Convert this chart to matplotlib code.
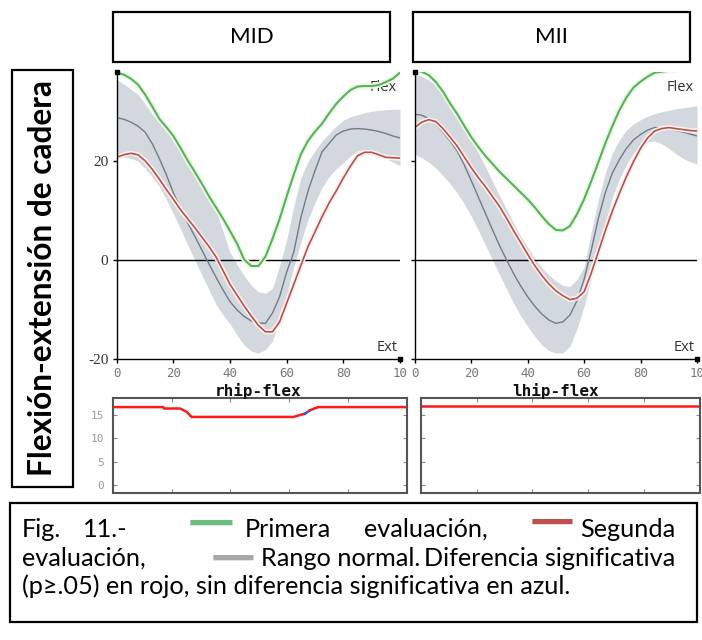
import matplotlib
matplotlib.use('Agg')
import matplotlib.pyplot as plt
import matplotlib.patheffects as pe
from matplotlib.patches import Rectangle
from matplotlib.lines import Line2D

# % of gait cycle, shared by every curve (one sample every 2.5 %)
pct = [i * 2.5 for i in range(41)]

# MID (right hip)
mid_primera = [37.8, 37.4, 36.6, 35.4, 33.4, 31.0, 28.5, 26.8, 25.0, 22.6, 20.1, 17.8, 15.4, 12.9,
               10.6, 8.3, 5.8, 3.2, 0.0, -1.3, -1.3, 0.6, 4.2, 8.2, 12.8, 17.2, 21.3, 24.0, 25.9,
               27.5, 29.6, 31.5, 33.0, 34.3, 35.0, 35.1, 35.1, 35.3, 35.9, 36.6, 37.8]
mid_segunda = [20.7, 21.2, 21.5, 21.2, 20.0, 18.3, 16.3, 14.2, 12.2, 10.1, 8.3, 6.5, 4.6, 2.7,
               0.6, -2.2, -5.0, -7.2, -9.4, -11.4, -13.3, -14.6, -14.6, -12.6, -8.8, -5.0, -1.2,
               2.6, 5.6, 8.7, 11.5, 13.9, 16.5, 18.9, 21.0, 21.7, 21.7, 21.2, 20.7, 20.6, 20.5]
mid_normal = [28.7, 28.4, 27.8, 27.0, 25.8, 23.5, 20.5, 17.2, 13.5, 10.4, 7.5, 4.8, 2.0, -0.8,
              -3.5, -6.1, -8.5, -10.2, -11.5, -12.4, -12.8, -12.9, -10.8, -7.5, -2.5, 1.5, 8.5,
              13.8, 18.0, 21.8, 23.5, 25.2, 26.0, 26.4, 26.5, 26.4, 26.2, 25.9, 25.5, 25.0, 24.6]
mid_normal_hi = [36.4, 35.5, 34.5, 33.4, 31.5, 29.5, 27.8, 26.3, 25.0, 22.5, 20.0, 17.8, 15.5,
                 13.0, 10.0, 5.8, 1.5, -1.0, -3.3, -5.2, -6.5, -6.8, -5.8, -1.2, 4.0, 10.8, 16.5,
                 19.8, 22.0, 24.0, 25.5, 27.0, 28.2, 28.9, 29.3, 29.7, 30.0, 30.2, 30.3, 30.4, 30.4]
mid_normal_lo = [20.7, 20.7, 20.5, 19.9, 18.5, 16.8, 14.8, 12.2, 9.3, 6.2, 3.0, 0.0, -3.0, -6.0,
                 -9.0, -11.2, -13.0, -15.3, -17.3, -18.5, -18.9, -18.2, -16.5, -12.0, -7.0, -1.5,
                 3.5, 8.0, 11.5, 14.6, 16.8, 18.4, 19.6, 20.9, 22.0, 22.0, 21.8, 21.2, 20.5, 19.7, 19.0]

# MII (left hip)
mii_primera = [38.3, 38.0, 37.3, 35.9, 34.0, 31.6, 29.5, 27.1, 24.8, 22.8, 21.0, 19.4, 17.8, 16.4,
               15.0, 13.6, 12.2, 10.6, 8.8, 7.2, 6.0, 5.9, 6.8, 9.2, 12.2, 15.8, 19.6, 23.5, 27.0,
               30.2, 32.8, 34.8, 36.0, 37.0, 37.8, 38.0, 38.2, 38.4, 38.6, 38.8, 39.0]
mii_segunda = [26.7, 27.8, 28.3, 27.9, 26.5, 24.8, 23.0, 20.8, 18.6, 16.6, 14.8, 12.8, 10.8, 8.4,
               5.9, 3.5, 1.1, -1.2, -3.2, -4.9, -6.3, -7.3, -8.1, -7.8, -6.5, -2.8, 1.5, 5.8, 9.8,
               13.4, 16.8, 19.8, 22.5, 24.6, 26.0, 26.5, 26.7, 26.5, 26.3, 26.1, 26.0]
mii_normal = [29.4, 29.2, 28.5, 27.5, 25.8, 24.0, 22.0, 19.2, 16.0, 12.7, 9.4, 6.1, 2.9, 0.0,
              -2.8, -5.3, -7.5, -9.4, -11.0, -12.2, -12.9, -12.6, -11.2, -8.3, -4.0, 1.8, 8.2,
              13.5, 17.5, 20.2, 22.5, 24.2, 25.3, 26.2, 26.7, 26.6, 26.4, 26.1, 25.8, 25.4, 25.0]
mii_normal_hi = [37.5, 37.1, 36.3, 35.2, 33.5, 31.8, 30.0, 27.5, 24.5, 21.6, 18.8, 15.9, 13.0,
                 10.2, 7.4, 4.8, 2.5, 0.3, -1.6, -3.1, -4.3, -5.2, -5.4, -4.0, -1.5, 5.5, 12.0,
                 17.5, 21.5, 24.2, 26.2, 27.4, 28.3, 29.0, 29.5, 29.9, 30.2, 30.5, 30.7, 30.9, 31.1]
mii_normal_lo = [21.3, 20.6, 19.7, 18.5, 17.0, 15.4, 13.5, 11.3, 8.8, 6.0, 3.0, 0.0, -3.0, -5.9,
                 -8.8, -11.3, -13.5, -15.5, -17.2, -18.4, -18.9, -18.9, -17.5, -14.0, -9.5, -4.0,
                 1.8, 7.5, 12.5, 16.3, 19.2, 21.5, 23.2, 23.8, 24.0, 23.4, 22.5, 21.4, 20.5, 19.8, 19.3]

# significance strips under each plot
mid_sig_x = [0, 17.2, 17.4, 22.9, 25.1, 26.8, 61.4, 63.6, 65.3]
mid_sig_y = [16.6, 16.6, 16.3, 16.3, 15.6, 14.5, 14.5, 14.9, 15.2]
mid_nosig_x = [65.3, 67.0]
mid_nosig_y = [15.2, 15.9]
mid_sig2_x = [67.0, 68.5, 69.9, 100]
mid_sig2_y = [15.9, 16.3, 16.6, 16.6]
mii_sig_x = [0, 100]
mii_sig_y = [16.9, 16.9]

titles = ['MID', 'MII']
xnames = ['rhip-flex', 'lhip-flex']
xticks = [0, 20, 40, 60, 80, 100]
xtick_labels = ['0', '20', '40', '60', '80', '10']
yticks = [-20, 0, 20]
ytick_labels = ['-20', '0', '20']
strip_ticks = [0, 5, 10, 15]
ylabel = 'Flexión-extensión de cadera'
caption1 = ['Fig.', '11.-', 'Primera', 'evaluación,', 'Segunda']
caption2 = ['evaluación,', 'Rango normal.', 'Diferencia significativa']
caption3 = '(p≥.05) en rojo, sin diferencia significativa en azul.'

W, H = 702, 640
fig = plt.figure(figsize=(W / 100, H / 100), dpi=100)
fig.patch.set_facecolor('white')


def px(x, y):
    return x / W, 1 - y / H


def box(x0, y0, x1, y1, lw=1.6):
    fig.add_artist(Rectangle(px(x0, y1), (x1 - x0) / W, (y1 - y0) / H,
                             transform=fig.transFigure, fill=False,
                             edgecolor='black', lw=lw))


def swatch(x0, x1, y, color):
    a, yy = px(x0, y)
    b, _ = px(x1, y)
    fig.add_artist(Line2D([a, b], [yy - 0.002, yy - 0.002], transform=fig.transFigure,
                          color='#dcdcdc', lw=4, solid_capstyle='butt'))
    fig.add_artist(Line2D([a, b], [yy, yy], transform=fig.transFigure,
                          color=color, lw=3.6, solid_capstyle='butt'))


GREEN = '#55b556'
RED = '#b8514b'
MEAN = '#6f7c89'
BAND = '#d3d8de'


def draw_main(ax, lo, hi, mean, first, second, show_labels):
    ax.fill_between(pct, lo, hi, color=BAND, lw=0, zorder=1)
    ax.axhline(0, color='black', lw=1, zorder=2)
    ax.plot(pct, mean, color=MEAN, lw=1, zorder=3)
    ax.plot(pct, second, color=RED, lw=1.2, zorder=4,
            path_effects=[pe.Stroke(linewidth=3.6, foreground='#fbf0ee'), pe.Normal()])
    ax.plot(pct, first, color=GREEN, lw=1.5, zorder=6,
            path_effects=[pe.Stroke(linewidth=4, foreground='#eef7ea'), pe.Normal()])
    ax.set_xlim(0, 100)
    ax.set_ylim(-20, 38)
    for s in ['top', 'right']:
        ax.spines[s].set_visible(False)
    for s in ['left', 'bottom']:
        ax.spines[s].set_linewidth(1)
        ax.spines[s].set_zorder(7)
    ax.set_xticks(xticks)
    ax.set_xticklabels(xtick_labels, color='#777777', fontsize=9, family='DejaVu Sans Mono')
    ax.set_yticks(yticks)
    if show_labels:
        ax.set_yticklabels(ytick_labels, color='#333333', fontsize=11, family='Liberation Serif')
    else:
        ax.set_yticklabels([])
    ax.tick_params(length=3, width=1, pad=3)
    ax.plot([0], [38], 's', color='black', ms=3, clip_on=False, zorder=8)
    ax.plot([100], [-20], 's', color='black', ms=3, clip_on=False, zorder=8)
    ax.text(99, 34.8, 'Flex', ha='right', va='center', fontsize=10.5,
            color='#333333', family='Open Sans', zorder=5)
    ax.text(99, -17.7, 'Ext', ha='right', va='center', fontsize=10.5,
            color='#333333', family='Open Sans', zorder=5)


def draw_strip(ax, show_labels):
    ax.set_xlim(0, 100)
    ax.set_ylim(-1.7, 18.6)
    ax.set_yticks(strip_ticks)
    ax.set_xticks(xticks[1:-1])
    ax.set_xticklabels([])
    if show_labels:
        ax.set_yticklabels([str(t) for t in strip_ticks], color='#999999', fontsize=8,
                           family='DejaVu Sans Mono')
    else:
        ax.set_yticklabels([])
    ax.tick_params(direction='in', length=3, width=0.8, color='#888888',
                   top=True, right=True, pad=6)
    for s in ax.spines.values():
        s.set_linewidth(1.5)
        s.set_color('#555555')


# main panels
ax1 = fig.add_axes([116.7 / W, 1 - 358.5 / H, 283.3 / W, 286.8 / H])
draw_main(ax1, mid_normal_lo, mid_normal_hi, mid_normal, mid_primera, mid_segunda, True)
ax2 = fig.add_axes([414.7 / W, 1 - 358.5 / H, 282.3 / W, 286.8 / H])
draw_main(ax2, mii_normal_lo, mii_normal_hi, mii_normal, mii_primera, mii_segunda, False)

# significance strips
ax3 = fig.add_axes([112.7 / W, 1 - 493 / H, 294.3 / W, 95.3 / H])
ax3.plot(mid_sig_x, mid_sig_y, color='#ff1a1a', lw=1.8)
ax3.plot(mid_nosig_x, mid_nosig_y, color='#3355dd', lw=1.8)
ax3.plot(mid_sig2_x, mid_sig2_y, color='#ff1a1a', lw=1.8)
draw_strip(ax3, True)
ax4 = fig.add_axes([420.7 / W, 1 - 493 / H, 279.3 / W, 95.3 / H])
ax4.plot(mii_sig_x, mii_sig_y, color='#ff1a1a', lw=1.8)
draw_strip(ax4, False)

for xc, name in zip([258, 556], xnames):
    fig.text(*px(xc, 391), name, ha='center', va='center', fontsize=11.5,
             fontweight='bold', family='DejaVu Sans Mono', color='#111111')

# title boxes
box(113, 12, 390, 62)
box(413, 12, 690, 62)
for xc, t in zip([251.5, 551.5], titles):
    fig.text(*px(xc, 37), t, ha='center', va='center', fontsize=16, family='Lato')

# y label box
box(11.7, 70, 72.7, 486.7)
renderer = fig.canvas.get_renderer()
yl = fig.text(*px(42.2, 278.5), ylabel, rotation=90, ha='center', va='center',
              fontsize=18, fontweight='bold', family='Lato')
h = yl.get_window_extent(renderer).height
yl.set_fontsize(18 * 397 / h)

# caption
box(10, 503, 697, 622)
fam = ['Lato', 'DejaVu Sans']
c3 = fig.text(*px(22, 594), caption3, ha='left', va='baseline', fontsize=15, family=fam)
w = c3.get_window_extent(renderer).width
fs = 15 * 550 / w
c3.set_fontsize(fs)

line1_x = [22, 83, 245, 364]
for x, t in zip(line1_x, caption1[:4]):
    fig.text(*px(x, 537), t, ha='left', va='baseline', fontsize=fs, family=fam)
fig.text(*px(675, 537), caption1[4], ha='right', va='baseline', fontsize=fs, family=fam)
fig.text(*px(22, 566), caption2[0], ha='left', va='baseline', fontsize=fs, family=fam)
fig.text(*px(261, 566), caption2[1], ha='left', va='baseline', fontsize=fs, family=fam)
fig.text(*px(675, 566), caption2[2], ha='right', va='baseline', fontsize=fs, family=fam)

swatch(190, 232, 521.7, '#6bbf7c')
swatch(532, 572, 520.7, '#c0504d')
swatch(213, 253, 556.7, '#a8a8a8')

fig.savefig('out.png', dpi=100, facecolor='white')
